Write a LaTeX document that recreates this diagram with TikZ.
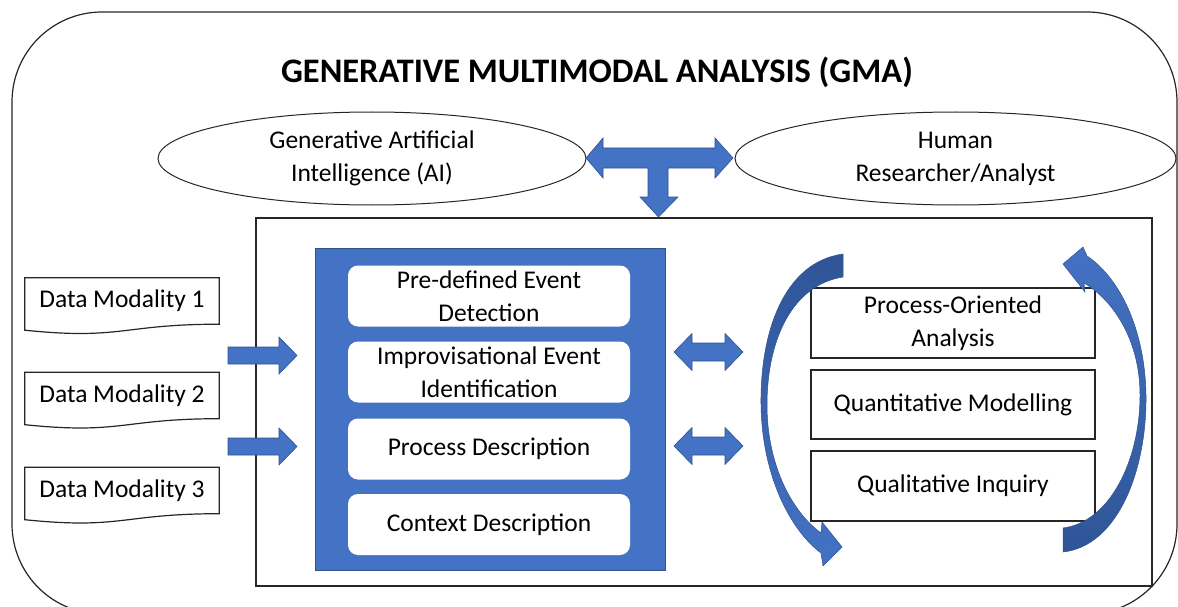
\documentclass[tikz,border=0pt]{standalone}
\usepackage{fontspec}
\setmainfont{Carlito}
\usetikzlibrary{shapes.geometric}
\definecolor{mblue}{HTML}{4472C4}
\definecolor{dblue}{HTML}{2F5597}
\definecolor{eblue}{HTML}{2F528F}
\begin{document}
\begin{tikzpicture}[x=1pt,y=-1pt,
  blk/.style={fill=mblue, draw=eblue, line width=0.6pt},
  lbl/.style={font=\fontsize{25.5}{33}\selectfont, align=center, text=black, inner sep=0pt},
  wbox/.style={lbl, fill=white, rounded corners=10pt, minimum width=282pt, minimum height=61pt},
  rbox/.style={lbl, draw=black!85, line width=1.2pt, fill=white, minimum width=284pt, minimum height=70pt},
  docbox/.style={lbl, minimum width=194pt, minimum height=46pt},
  ell/.style={lbl, ellipse, draw=black!85, line width=1pt, minimum height=93pt},
  frame/.style={draw=black!85, line width=1.2pt}
]
\useasboundingbox (0,0) rectangle (1178,607);
% outer rounded frame
\draw[frame, rounded corners=90pt] (12,12) rectangle (1177,614);
% title
\node[lbl, font=\bfseries\fontsize{34.4}{41}\selectfont] (title) at (597,72.5) {GENERATIVE MULTIMODAL ANALYSIS (GMA)};
% ellipses
\node[ell, minimum width=428pt] (e1) at (372,158.5) {Generative Artificial\\Intelligence (AI)};
\node[ell, minimum width=441pt] (e2) at (955.5,158.5) {Human\\Researcher/Analyst};
% T arrow
\filldraw[blk] (586,158) -- (603,138) -- (603,148) -- (715,148) -- (715,138) -- (733,158) -- (715,178) -- (715,168) -- (668,168) -- (668,197) -- (678,197) -- (658.5,217) -- (640,197) -- (648,197) -- (648,168) -- (603,168) -- (603,178) -- cycle;
% main panel
\node[frame, minimum width=896pt, minimum height=368pt, inner sep=0pt] (panel) at (704,402) {};
% blue core box
\node[fill=mblue, draw=eblue, line width=0.8pt, minimum width=350pt, minimum height=322pt, inner sep=0pt] (core) at (490,409) {};
\node[wbox] (w1) at (489,296) {Pre-defined Event\\Detection};
\node[wbox] (w2) at (489,372) {Improvisational Event\\Identification};
\node[wbox] (w3) at (489,449) {Process Description};
\node[wbox] (w4) at (489,524.5) {Context Description};
% data modality documents
\node[docbox] (d1) at (122,301) {Data Modality 1};
\node[docbox] (d2) at (122,395.5) {Data Modality 2};
\node[docbox] (d3) at (122,490.5) {Data Modality 3};
\foreach \n in {d1,d2,d3}
  \draw[frame] (\n.north west) -- (\n.north east) -- (\n.south east)
    .. controls (\n.south) and ([yshift=-16pt]\n.south) .. ([yshift=-6pt]\n.south west) -- cycle;
% data arrows
\filldraw[blk] (228,347) -- (279,347) -- (279,337) -- (297,355.5) -- (279,374) -- (279,364) -- (228,364) -- cycle;
\filldraw[blk] (228,438) -- (279,438) -- (279,428) -- (297,446.5) -- (279,465) -- (279,455) -- (228,455) -- cycle;
% double arrows
\filldraw[blk] (674,352) -- (692,333.5) -- (692,343) -- (725,343) -- (725,333.5) -- (743,352) -- (725,370.5) -- (725,361) -- (692,361) -- (692,370.5) -- cycle;
\filldraw[blk] (674,446) -- (692,427.5) -- (692,437) -- (725,437) -- (725,427.5) -- (743,446) -- (725,464.5) -- (725,455) -- (692,455) -- (692,464.5) -- cycle;
% right boxes
\node[rbox] (r1) at (953,323) {Process-Oriented\\Analysis};
\node[rbox, minimum height=69pt] (r2) at (953,404.5) {Quantitative Modelling};
\node[rbox] (r3) at (953,486) {Qualitative Inquiry};
% curved arrows
\shadedraw[top color=dblue, middle color=mblue, bottom color=mblue, draw=eblue, line width=0.5pt]
  (843,254) .. controls (785,262) and (760,330) .. (761,405)
  .. controls (762,475) and (790,530) .. (821,553)
  -- (823,566) -- (842,547) -- (822,522) -- (821,533)
  .. controls (792,512) and (767,465) .. (767,405)
  .. controls (767,340) and (792,285) .. (843,277) -- cycle;
\shadedraw[top color=mblue, middle color=mblue, bottom color=dblue, draw=eblue, line width=0.5pt]
  (1063,552) .. controls (1118,546) and (1147,470) .. (1146,395)
  .. controls (1145,330) and (1120,278) .. (1087,256)
  -- (1083,247) -- (1063,264) -- (1085,292) -- (1084,283)
  .. controls (1113,300) and (1140,340) .. (1140,395)
  .. controls (1140,460) and (1110,522) .. (1063,528) -- cycle;
\end{tikzpicture}
\end{document}
